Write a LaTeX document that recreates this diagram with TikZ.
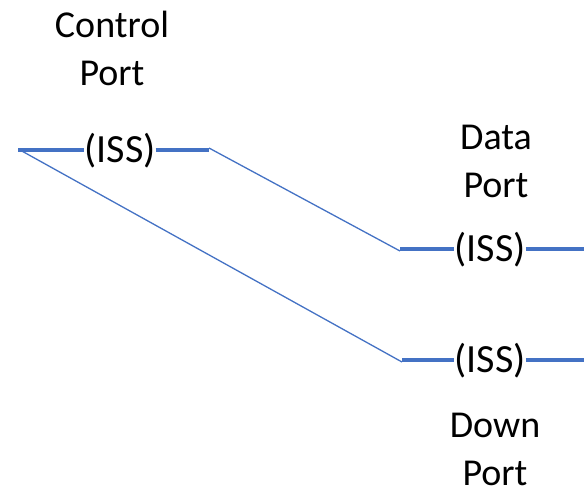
\documentclass[tikz,border=0pt]{standalone}
\usepackage{fontspec}
\setmainfont{Carlito}
\usepackage{tikz}
\usetikzlibrary{positioning}

\definecolor{portblue}{RGB}{68,114,196}

\tikzset{
  iss/.style={inner sep=0pt, font=\fontsize{40}{46}\selectfont},
  portlabel/.style={align=center, inner sep=0pt, anchor=base, font=\fontsize{38}{48}\selectfont},
  bus/.style={portblue, line width=4pt},
  link/.style={portblue, line width=1.3pt}
}

\begin{document}
\begin{tikzpicture}[x=1pt, y=-1pt]
  \useasboundingbox (0,0) rectangle (584,488);

  % control port on the left
  \node[portlabel] (ctrllbl) at (112,85) {Control\\Port};
  \coordinate (ctrlin) at (18,150);
  \node[iss, anchor=base] (ctrliss) at (120,162) {(ISS)};
  \coordinate (ctrlout) at (209,150);
  \draw[bus] (ctrlin) -- (ctrliss.west |- ctrlin);
  \draw[bus] (ctrliss.east |- ctrlout) -- (ctrlout);

  % data port
  \node[portlabel] (datalbl) at (496,197) {Data\\Port};
  \coordinate (datain) at (400,249);
  \node[iss, anchor=base] (dataiss) at (490,261) {(ISS)};
  \coordinate (dataout) at (584,249);
  \draw[bus] (datain) -- (dataiss.west |- datain);
  \draw[bus] (dataiss.east |- dataout) -- (dataout);

  % down port
  \node[portlabel] (downlbl) at (495,485) {Down\\Port};
  \coordinate (downin) at (402,360);
  \node[iss, anchor=base] (downiss) at (490,372) {(ISS)};
  \coordinate (downout) at (584,360);
  \draw[bus] (downin) -- (downiss.west |- downin);
  \draw[bus] (downiss.east |- downout) -- (downout);

  % thin links between the ports
  \draw[link] (ctrlout) ++(0,-2) -- ([yshift=-2pt]datain);
  \draw[link] (ctrlin) ++(2,0) -- ([yshift=-2pt]downin);
\end{tikzpicture}
\end{document}
